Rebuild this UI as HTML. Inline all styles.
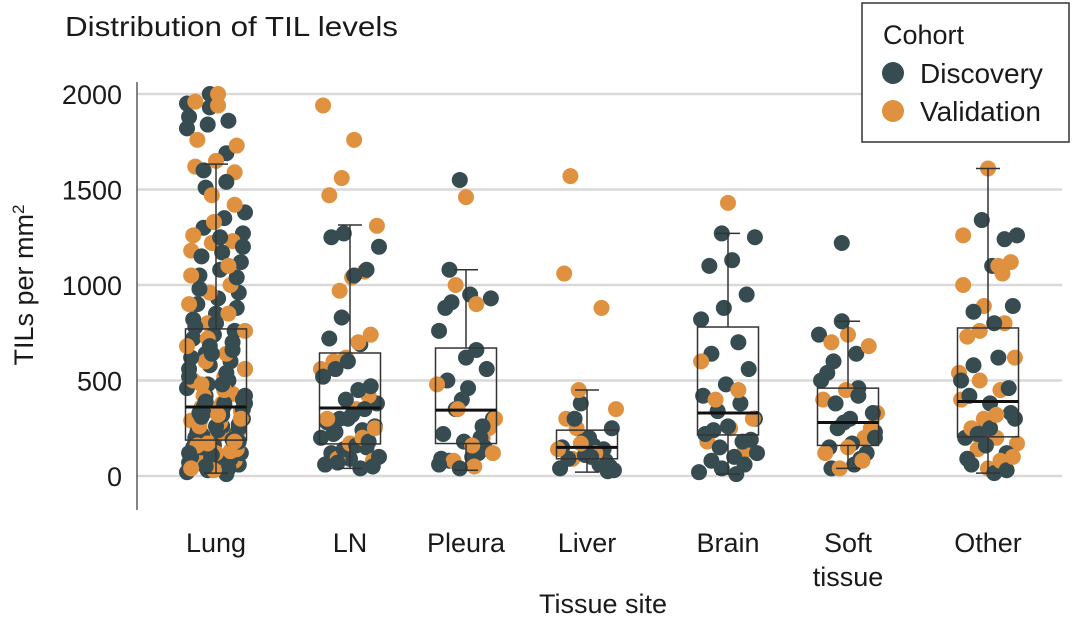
<!DOCTYPE html>
<html><head><meta charset="utf-8"><style>
html,body{margin:0;padding:0;background:#fff;}
svg{display:block;font-family:"Liberation Sans",sans-serif;}
</style></head><body>
<svg id="chart" width="1080" height="623" viewBox="0 0 1080 623" xmlns="http://www.w3.org/2000/svg">
<text x="65" y="36" font-size="28" fill="#1a1a1a" textLength="333" lengthAdjust="spacingAndGlyphs">Distribution of TIL levels</text>
<g id="grid"></g><g id="boxes"></g><g id="points"></g><g id="axes"></g>
<text transform="translate(33,285) rotate(-90)" text-anchor="middle" font-size="27" fill="#1a1a1a">TILs per mm<tspan baseline-shift="super" font-size="17">2</tspan></text>
<text x="603" y="613" text-anchor="middle" font-size="27" fill="#1a1a1a">Tissue site</text>
<g>
<rect x="862" y="3" width="207" height="139" fill="#fff" stroke="#333" stroke-width="1.5"/>
<text x="883" y="44" font-size="27" fill="#1a1a1a">Cohort</text>
<circle cx="893" cy="73" r="11" fill="#364c51"/>
<text x="920" y="83" font-size="28" fill="#1a1a1a">Discovery</text>
<circle cx="893" cy="111" r="11" fill="#e09140"/>
<text x="920" y="121" font-size="28" fill="#1a1a1a">Validation</text>
</g>
</svg>
<script>
const categories = ["Lung","LN","Pleura","Liver","Brain","Soft tissue","Other"];
const yTicks = [0,500,1000,1500,2000];
const boxQ1 = [188,168,170,90,215,160,205];
const boxMedian = [361,356,345,150,330,280,390];
const boxQ3 = [770,644,670,240,780,460,775];
const whiskerLow = [15,40,30,20,10,40,15];
const whiskerHigh = [1633,1314,1080,450,1270,810,1610];
const discovery = [
[2000,1950,1930,1880,1860,1840,1820,1690,1600,1540,1510,1380,1350,1300,1270,1250,1200,1170,1150,1120,1080,1050,1040,980,960,930,900,880,850,820,800,780,760,740,720,700,680,660,640,620,600,580,560,540,520,500,480,460,440,420,400,390,380,370,360,350,340,330,320,310,300,290,280,270,260,250,240,230,220,210,200,190,180,170,160,150,140,130,120,110,100,90,80,70,60,50,40,30,20,10,640,560,480,420,380,330,300,260,220,180,150,120,100,80,60],
[1270,1250,1200,1080,1050,830,720,690,600,560,520,470,450,400,380,350,320,300,280,260,240,220,200,180,160,140,120,100,90,70,60,50,40,300,230,150],
[1550,1080,950,930,910,880,760,660,620,560,500,460,400,350,300,260,220,180,150,120,100,80,60,40,200,90],
[380,300,250,200,180,160,140,120,100,90,80,60,50,40,30,25,110,150],
[1270,1250,1130,1100,950,880,820,700,640,560,480,420,380,340,300,260,220,180,150,120,100,80,60,40,20,10,240,190],
[1220,810,740,640,600,540,500,460,420,380,330,300,280,250,230,200,170,150,120,90,60,40],
[1340,1260,1240,1100,890,860,800,620,580,500,460,420,380,330,300,250,220,200,160,120,90,60,30,15,240]
];
const validation = [
[2000,1960,1940,1760,1730,1650,1620,1590,1470,1420,1330,1260,1230,1220,1180,1100,1050,1000,960,900,850,800,760,720,680,640,600,560,520,480,450,420,400,380,360,340,320,300,280,260,240,220,200,180,160,140,120,100,80,60,40,30,500,430,350,290,210,170,130],
[1940,1760,1560,1470,1310,1070,1040,970,740,700,620,600,560,420,350,300,250,200,170,90,60,80],
[1460,1000,900,480,350,300,250,200,160,120,80,50],
[1570,1060,880,450,350,300,250,200,170,140,120,90],
[1430,600,450,400,300,250,180,130],
[740,700,680,450,400,330,250,200,150,120,80,40],
[1610,1260,1120,1100,1060,1000,890,800,760,730,620,540,500,450,400,320,300,250,220,200,170,140,100,80,40]
];
const NS="http://www.w3.org/2000/svg";
const X0=137,X1=1062,Y0=476,PXPER=191/1000;
const catX=[216,350,466,587,728,848,988];
function yScale(v){return Y0-v*PXPER;}
function xScale(i){return catX[i];}
function mk(tag,attrs,parent){const e=document.createElementNS(NS,tag);for(const k in attrs)e.setAttribute(k,attrs[k]);parent.appendChild(e);return e;}
const grid=document.getElementById('grid'),axes=document.getElementById('axes'),pts=document.getElementById('points');
yTicks.forEach(t=>{
  const l=mk('line',{x1:X0,x2:X1,y1:yScale(t),y2:yScale(t),stroke:'#d9d9d9','stroke-width':2.5},grid);
  
  
  const tx=mk('text',{x:122,y:yScale(t)+10,'text-anchor':'end','font-size':27,fill:'#1a1a1a'},axes);
  tx.textContent=t;
  
  
});
const ax=mk('line',{x1:X0,x2:X0,y1:82,y2:510,stroke:'#333','stroke-width':1.2},axes);


categories.forEach((c,i)=>{
  const cx=xScale(i);
  const parts=c==="Soft tissue"?["Soft","tissue"]:[c];
  parts.forEach((p,j)=>{
    const t=mk('text',{x:cx,y:552+j*34,'text-anchor':'middle','font-size':27,fill:'#1a1a1a'},axes);
    t.textContent=p;
    
    
  });
  const all=[];
  discovery[i].forEach((v,k)=>all.push([v,'#364c51',k]));
  validation[i].forEach((v,k)=>all.push([v,'#e09140',k+7]));
  all.sort((a,b)=>((a[2]*13)%7)-((b[2]*13)%7));
  all.forEach((p,k)=>{
    const j=(((k*37+11)%29)/28-0.5)*58;
    const dot=mk('circle',{cx:cx+j,cy:yScale(p[0]),r:8,fill:p[1]},pts);
    
    
  });
});
categories.forEach((c,i)=>{
  const cx=xScale(i),w=61;
  const g=mk('g',{},pts);
  
  
  mk('line',{x1:cx,x2:cx,y1:yScale(boxQ3[i]),y2:yScale(whiskerHigh[i]),stroke:'#333','stroke-width':1.5},g);
  mk('line',{x1:cx,x2:cx,y1:yScale(boxQ1[i]),y2:yScale(whiskerLow[i]),stroke:'#333','stroke-width':1.5},g);
  mk('line',{x1:cx-12,x2:cx+12,y1:yScale(whiskerHigh[i]),y2:yScale(whiskerHigh[i]),stroke:'#333','stroke-width':1.5},g);
  mk('line',{x1:cx-12,x2:cx+12,y1:yScale(whiskerLow[i]),y2:yScale(whiskerLow[i]),stroke:'#333','stroke-width':1.5},g);
  mk('rect',{x:cx-w/2,y:yScale(boxQ3[i]),width:w,height:yScale(boxQ1[i])-yScale(boxQ3[i]),fill:'none',stroke:'#333','stroke-width':1.5},g);
  mk('line',{x1:cx-w/2,x2:cx+w/2,y1:yScale(boxMedian[i]),y2:yScale(boxMedian[i]),stroke:'#111','stroke-width':3},g);
});
</script>
</body></html>
